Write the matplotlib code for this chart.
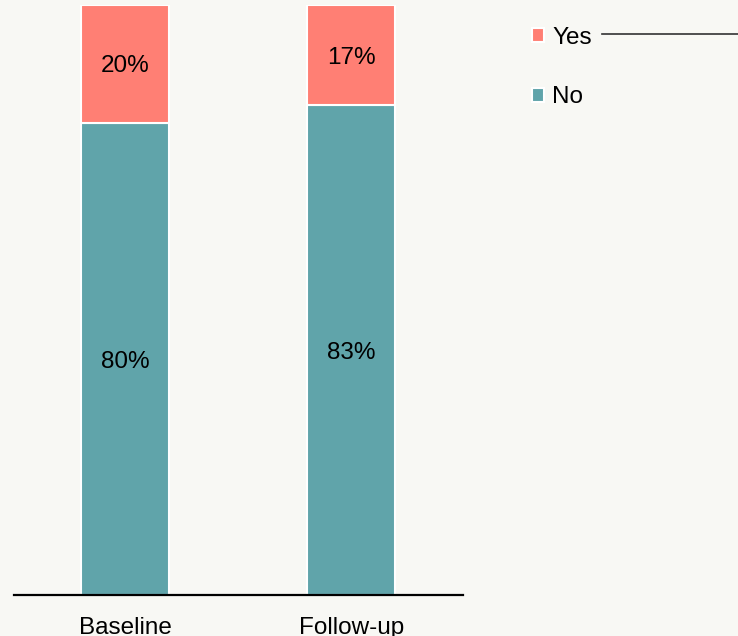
import matplotlib.pyplot as plt
from matplotlib.lines import Line2D
import numpy as np

plt.rcParams['font.family'] = ['Liberation Sans', 'DejaVu Sans']

groups = ["Baseline", "Follow-up"]
no_vals = [80, 83]
yes_vals = [20, 17]

teal = "#60A4AA"
salmon = "#FF7F74"
bg = "#F8F8F4"

fig = plt.figure(figsize=(7.38, 6.36), dpi=100, facecolor=bg)
ax = fig.add_axes([14/738, 41/636, 449/738, 590/636])
ax.set_facecolor(bg)

x = np.arange(len(groups))
b_no = ax.bar(x, no_vals, width=0.39, color=teal, edgecolor="white", linewidth=1.5, label="No")
b_yes = ax.bar(x, yes_vals, bottom=no_vals, width=0.39, color=salmon, edgecolor="white", linewidth=1.5, label="Yes")

for i in range(len(groups)):
  ax.text(x[i], no_vals[i] / 2, f"{no_vals[i]}%", ha="center", va="center_baseline", fontsize=17.5)
  ax.text(x[i], no_vals[i] + yes_vals[i] / 2, f"{yes_vals[i]}%", ha="center", va="center_baseline", fontsize=17.5)

ax.set_xlim(-0.493, 1.494)
ax.set_ylim(0, 100)
ax.set_xticks(x)
ax.set_xticklabels(groups, fontsize=17.5)
ax.tick_params(axis="x", length=0, pad=16)
ax.set_yticks([])
for s in ["top", "right", "left"]:
  ax.spines[s].set_visible(False)
ax.spines["bottom"].set_linewidth(1.6)
ax.spines["bottom"].set_color("black")

fig.legend(handles=[b_yes, b_no], labels=["Yes", "No"], loc="upper left",
           bbox_to_anchor=(522/738, 1 - 17/636), frameon=False, fontsize=17.5,
           handlelength=0.5, handleheight=0.5, handletextpad=0.35, labelspacing=1.55,
           borderaxespad=0)

fig.add_artist(Line2D([602/738, 1.0], [1 - 34/636, 1 - 34/636], color="#333333", linewidth=1.2))

fig.savefig("out.png", dpi=100, facecolor=bg)
